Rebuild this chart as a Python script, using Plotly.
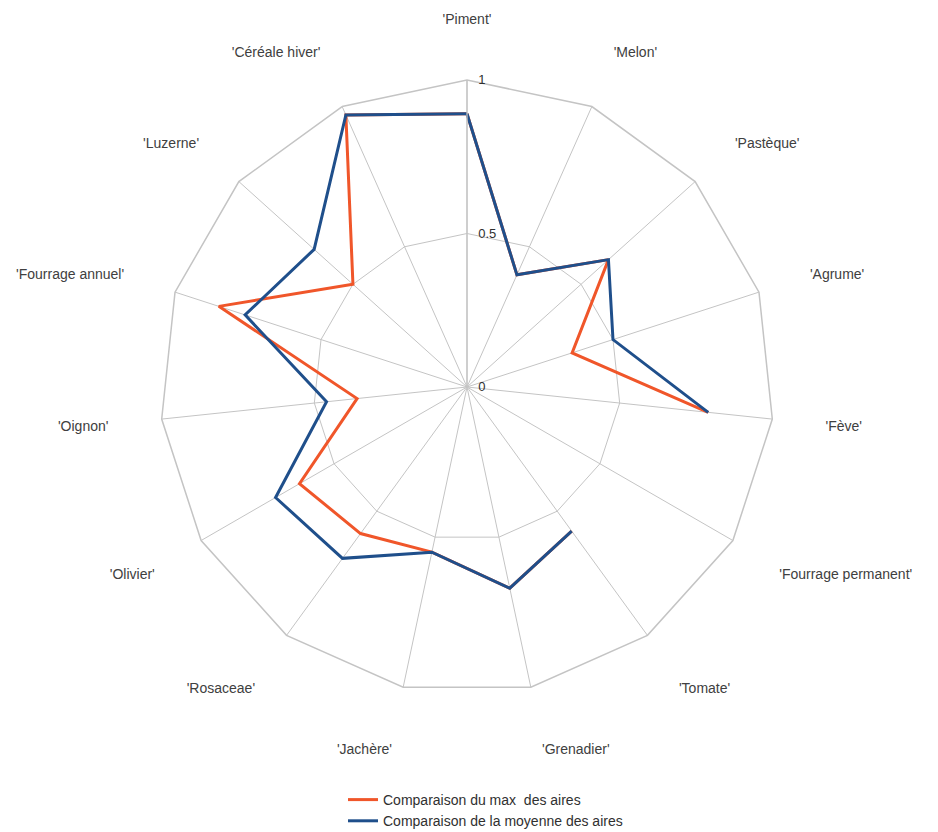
import plotly.graph_objects as go

categories = ["'Piment'", "'Melon'", "'Pastèque'", "'Agrume'", "'Fève'",
              "'Fourrage permanent'", "'Tomate'", "'Grenadier'", "'Jachère'",
              "'Rosaceae'", "'Olivier'", "'Oignon'", "'Fourrage annuel'",
              "'Luzerne'", "'Céréale hiver'"]

max_values = [0.89, 0.40, 0.62, 0.36, 0.79, None, 0.58, 0.67, 0.55,
              0.59, 0.63, 0.36, 0.85, 0.50, 0.97]
mean_values = [0.89, 0.40, 0.62, 0.50, 0.79, None, 0.58, 0.67, 0.55,
               0.69, 0.72, 0.46, 0.76, 0.67, 0.97]

series_names = ["Comparaison du max  des aires", "Comparaison de la moyenne des aires"]
series_colors = ["#f0562a", "#1f4f8b"]
radial_ticks = [0, 0.5, 1]
radial_ticktext = ["0", "0.5", "1"]

fig = go.Figure()
for name, vals, col in zip(series_names, [max_values, mean_values], series_colors):
    fig.add_trace(go.Scatterpolar(
        r=vals + [vals[0]],
        theta=categories + [categories[0]],
        mode="lines",
        name=name,
        line=dict(color=col, width=3),
        connectgaps=False,
    ))

R = 307
cx, cy = 459, 379
W, H = 938, 832
fig.update_layout(
    width=W, height=H,
    margin=dict(l=0, r=0, t=0, b=0),
    paper_bgcolor="white",
    plot_bgcolor="white",
    font=dict(family="Liberation Sans, Arial, sans-serif", size=14, color="#404040"),
    polar=dict(
        domain=dict(x=[(cx - R) / W, (cx + R) / W],
                    y=[(H - cy - R) / H, (H - cy + R) / H]),
        gridshape="linear",
        bgcolor="white",
        angularaxis=dict(
            categoryarray=categories,
            direction="clockwise",
            rotation=90,
            showgrid=True,
            gridcolor="#c4c4c4",
            gridwidth=1.3,
            showline=True,
            linecolor="#c4c4c4",
            linewidth=1.5,
            ticks="outside",
            ticklen=50,
            tickcolor="rgba(0,0,0,0)",
            tickfont=dict(size=14, color="#404040"),
        ),
        radialaxis=dict(
            range=[0, 1],
            angle=90,
            tickvals=radial_ticks,
            ticktext=radial_ticktext,
            showgrid=True,
            gridcolor="#c4c4c4",
            gridwidth=1.3,
            showline=True,
            linecolor="#c4c4c4",
            linewidth=1.3,
            ticks="outside",
            ticklen=8,
            tickcolor="rgba(0,0,0,0)",
            tickangle=90,
            tickfont=dict(size=13, color="#303030"),
        ),
    ),
    legend=dict(
        x=335 / W, y=(H - 776) / H,
        xanchor="left", yanchor="top",
        font=dict(size=14, color="#303030"),
        bgcolor="rgba(0,0,0,0)",
        tracegroupgap=0,
    ),
)

fig.write_html("out.html")
